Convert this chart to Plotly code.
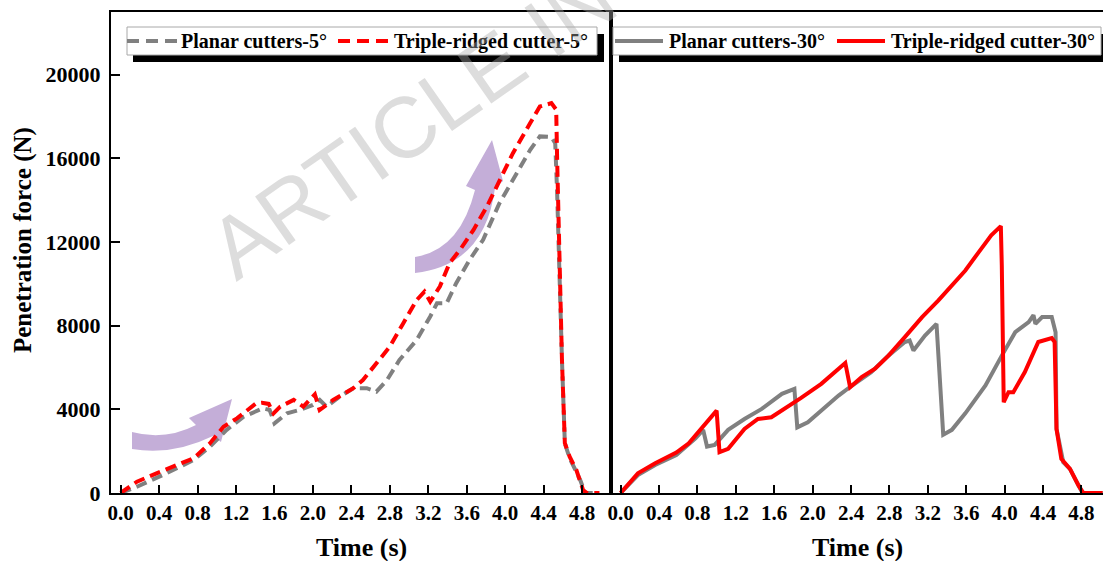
import plotly.graph_objects as go

# ---------------- data ----------------
# 5 degree cutters (left panel)
t5_planar = [0.0, 0.17, 0.44, 0.76, 0.93, 1.10, 1.28, 1.48, 1.55, 1.60, 1.73, 1.86, 2.00, 2.07, 2.14,
             2.28, 2.42, 2.56, 2.66, 2.77, 2.90, 3.08, 3.22, 3.29, 3.39, 3.49, 3.63, 3.77, 3.94,
             4.12, 4.26, 4.36, 4.48, 4.52, 4.54, 4.59, 4.62, 4.67, 4.78, 4.83, 4.91]
f5_planar = [0, 300, 860, 1580, 2220, 3010, 3650, 4050, 3970, 3330, 3810, 3970, 4210, 4450, 4130,
             4610, 5010, 5010, 4850, 5400, 6360, 7320, 8440, 9070, 9070, 10030, 11150, 12110, 13860,
             15290, 16410, 17050, 17020, 16730, 14340, 6360, 2380, 1660, 620, 0, 0]

t5_triple = [0.0, 0.17, 0.44, 0.76, 0.93, 1.07, 1.21, 1.41, 1.47, 1.54, 1.59, 1.66, 1.80, 1.90, 2.02,
             2.07, 2.21, 2.42, 2.52, 2.66, 2.80, 2.94, 3.08, 3.16, 3.22, 3.32, 3.42, 3.53, 3.67,
             3.81, 3.94, 4.08, 4.26, 4.36, 4.48, 4.53, 4.54, 4.56, 4.59, 4.62, 4.67, 4.74, 4.81,
             4.85, 4.98]
f5_triple = [0, 540, 1070, 1660, 2380, 3170, 3570, 4290, 4320, 4260, 3810, 4130, 4450, 4130, 4720,
             3970, 4450, 5010, 5400, 6200, 7000, 8120, 9230, 9630, 9150, 9870, 10990, 11630, 12580,
             13700, 14980, 16250, 17690, 18480, 18640, 18330, 15930, 11150, 6360, 2380, 1740, 1100, 140,
             0, 0]

# 30 degree cutters (right panel)
t30_planar = [0.0, 0.18, 0.36, 0.58, 0.78, 0.86, 0.90, 0.98, 1.12, 1.29, 1.47, 1.68, 1.81, 1.84, 1.95,
              2.09, 2.27, 2.41, 2.61, 2.79, 2.96, 3.01, 3.05, 3.17, 3.29, 3.36, 3.45, 3.59, 3.80,
              3.97, 4.11, 4.25, 4.30, 4.32, 4.39, 4.49, 4.53, 4.54, 4.61, 4.68, 4.77, 4.81, 5.02]
f30_planar = [0, 860, 1340, 1820, 2620, 3020, 2220, 2300, 3020, 3540, 4020, 4740, 4980, 3140, 3380,
              3940, 4660, 5140, 5780, 6570, 7220, 7290, 6810, 7530, 8090, 2790, 3020, 3810, 5140,
              6570, 7690, 8170, 8500, 8090, 8410, 8410, 7690, 3060, 1470, 1150, 350, 0, 0]

t30_triple = [0.0, 0.18, 0.36, 0.58, 0.71, 0.88, 1.00, 1.03, 1.12, 1.29, 1.43, 1.57, 1.71, 1.88, 2.09,
              2.34, 2.39, 2.51, 2.65, 2.79, 2.96, 3.14, 3.31, 3.45, 3.59, 3.73, 3.86, 3.96, 3.97,
              3.99, 4.04, 4.09, 4.21, 4.35, 4.49, 4.52, 4.54, 4.59, 4.68, 4.77, 4.82, 5.02]
f30_triple = [0, 940, 1420, 1930, 2380, 3330, 3940, 1950, 2110, 3060, 3540, 3620, 4020, 4550, 5220,
              6220, 5060, 5540, 5940, 6570, 7450, 8410, 9210, 9920, 10640, 11520, 12320, 12760, 10880,
              4340, 4820, 4820, 5780, 7220, 7410, 7220, 3060, 1630, 1150, 350, 0, 0]

x_ticks = [0.0, 0.4, 0.8, 1.2, 1.6, 2.0, 2.4, 2.8, 3.2, 3.6, 4.0, 4.4, 4.8]
x_labels = ["0.0", "0.4", "0.8", "1.2", "1.6", "2.0", "2.4", "2.8", "3.2", "3.6", "4.0", "4.4", "4.8"]
y_ticks = [0, 4000, 8000, 12000, 16000, 20000]
y_labels = ["0", "4000", "8000", "12000", "16000", "20000"]

names = ["Planar cutters-5°", "Triple-ridged cutter-5°",
         "Planar cutters-30°", "Triple-ridged cutter-30°"]

# ---------------- figure geometry (pixels) ----------------
W, H = 1103, 561
LEFT, MID, TOP, BOTTOM = 111, 611, 12, 493
GRAY, RED = "#808080", "#ff0000"
SERIF = "Liberation Serif"
LW = 4
DASH = "11px,6px"


def px(x, y):
    """pixel position -> paper coordinates"""
    return x / W, 1 - y / H


def path(points):
    out = []
    for cmd, pts in points:
        coords = " ".join(f"{px(x, y)[0]:.5f},{px(x, y)[1]:.5f}" for x, y in pts)
        out.append(f"{cmd} {coords}")
    return " ".join(out) + " Z"


def rect(x0, y0, x1, y1, **kw):
    a, b = px(x0, y0), px(x1, y1)
    fig.add_shape(type="rect", xref="paper", yref="paper", x0=a[0], y0=b[1], x1=b[0], y1=a[1],
                  layer="above", **kw)


fig = go.Figure()

series = [
    (t5_planar, f5_planar, GRAY, DASH, "x", "y"),
    (t5_triple, f5_triple, RED, DASH, "x", "y"),
    (t30_planar, f30_planar, GRAY, "solid", "x2", "y2"),
    (t30_triple, f30_triple, RED, "solid", "x2", "y2"),
]
for (tx, fy, col, dash, xa, ya), nm in zip(series, names):
    fig.add_trace(go.Scatter(x=tx, y=fy, mode="lines", name=nm, showlegend=False,
                             line=dict(color=col, width=LW, dash=dash), xaxis=xa, yaxis=ya))

xtick_font = dict(family=SERIF, size=21, color="black", weight="bold")
ytick_font = dict(family=SERIF, size=22, color="black", weight="bold")
ydom = [1 - BOTTOM / H, 1 - TOP / H]

common_x = dict(tickmode="array", tickvals=x_ticks, ticktext=x_labels, ticks="inside",
                ticklen=8, tickwidth=2, tickcolor="black", showline=True, linewidth=2,
                linecolor="black", mirror=True, showgrid=False, zeroline=False,
                tickfont=xtick_font)

fig.update_layout(
    width=W, height=H, margin=dict(l=0, r=0, t=0, b=0, autoexpand=False),
    paper_bgcolor="white", plot_bgcolor="white", showlegend=False,
    xaxis=dict(domain=[LEFT / W, MID / W], range=[-0.1, 5.1], anchor="y", **common_x),
    yaxis=dict(domain=ydom, range=[0, 23000], anchor="x", tickmode="array",
               tickvals=y_ticks, ticktext=y_labels, ticks="inside", ticklen=9, tickwidth=2,
               tickcolor="black", showline=True, linewidth=2, linecolor="black",
               mirror=True, showgrid=False, zeroline=False, tickfont=ytick_font,
               ticklabelstandoff=4),
    xaxis2=dict(domain=[MID / W, 1.0], range=[-0.1, 5.024], anchor="y2", **common_x),
    yaxis2=dict(domain=ydom, range=[0, 23000], anchor="x2", showline=True, linewidth=2,
                linecolor="black", mirror=False, ticks="", showticklabels=False,
                showgrid=False, zeroline=False),
)

# legend boxes with drop shadows, keys and labels
legend_font = dict(family=SERIF, size=20, color="black", weight="bold")
LEG_Y = 41
legend_boxes = [(127, 597), (613, 1101)]
legend_keys = [  # (key start, key end, label start) per entry
    (127, 177, 180), (338, 388, 393),
    (615, 663, 668), (837, 885, 890),
]
for bx0, bx1 in legend_boxes:
    rect(bx0 + 6, 34, bx1 + 7, 62, fillcolor="black", line=dict(width=0))
    rect(bx0, 27, bx1, 55, fillcolor="white", line=dict(color="#a8a8a8", width=1))
for (k0, k1, tx0), (_, _, col, dash, _, _), nm in zip(legend_keys, series, names):
    a, b = px(k0, LEG_Y), px(k1, LEG_Y)
    fig.add_shape(type="line", xref="paper", yref="paper", x0=a[0], y0=a[1], x1=b[0], y1=b[1],
                  line=dict(color=col, width=LW, dash="12px,7px" if dash != "solid" else "solid"),
                  layer="above")
    fig.add_annotation(text=nm, xref="paper", yref="paper", x=px(tx0, 0)[0], y=px(0, LEG_Y)[1],
                       xanchor="left", yanchor="middle", showarrow=False, font=legend_font,
                       borderpad=0)

# curved trend arrows
arrow_fill = "#c4aed8"
fig.add_shape(type="path", xref="paper", yref="paper", layer="below",
              fillcolor=arrow_fill, line=dict(width=0),
              path=path([("M", [(132, 432)]), ("Q", [(165, 441), (196, 425)]),
                         ("L", [(189, 418)]), ("L", [(232, 399)]), ("L", [(221, 442)]),
                         ("L", [(213, 436)]), ("Q", [(172, 456), (132, 449)])]))
fig.add_shape(type="path", xref="paper", yref="paper", layer="below",
              fillcolor=arrow_fill, line=dict(width=0),
              path=path([("M", [(415, 257)]), ("Q", [(460, 250), (475, 190)]),
                         ("L", [(466, 186)]), ("L", [(492, 140)]), ("L", [(503, 181)]),
                         ("L", [(495, 188)]), ("Q", [(485, 265), (415, 273)])]))

# axis titles
title_font = dict(family=SERIF, size=26, color="black", weight="bold")
for cx in [(LEFT + MID) / 2, (MID + W) / 2]:
    fig.add_annotation(text="Time (s)", xref="paper", yref="paper", x=px(cx, 0)[0],
                       y=px(0, 547)[1], xanchor="center", yanchor="middle",
                       showarrow=False, font=title_font)
fig.add_annotation(text="Penetration force (N)", xref="paper", yref="paper",
                   x=px(23, 0)[0], y=px(0, 240)[1], textangle=-90, xanchor="center",
                   yanchor="middle", showarrow=False, font=dict(family=SERIF, size=25,
                                                                 color="black", weight="bold"))

# watermark
wx, wy = px(541, 32)
fig.add_annotation(text="ARTICLE IN PRESS", xref="paper", yref="paper", x=wx, y=wy,
                   textangle=-35, xanchor="center", yanchor="middle", showarrow=False,
                   font=dict(family="Liberation Sans", size=86, color="rgba(170,170,170,0.4)"))

fig.write_html("out.html")
